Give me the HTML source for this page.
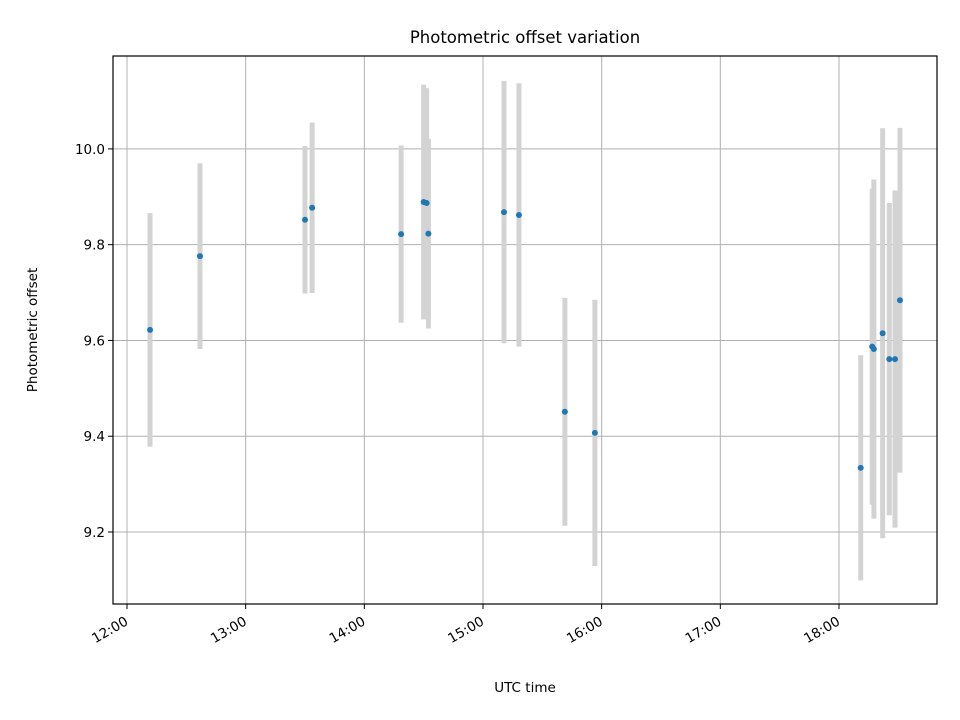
<!DOCTYPE html>
<html><head><meta charset="utf-8"><style>
body{margin:0;background:#fff;}
svg{display:block;font-family:"DejaVu Sans","Liberation Sans",sans-serif;}
</style></head><body>
<svg id="chart" width="960" height="720" viewBox="0 0 960 720" xmlns="http://www.w3.org/2000/svg">
<rect width="960" height="720" fill="#fff"/>
<g id="grid"></g>
<g id="errs"></g>
<g id="pts"></g>
<rect x="113" y="56" width="824" height="548" fill="none" stroke="#000" stroke-width="1.2"/>
<g id="axes"></g>
<text x="525" y="43" text-anchor="middle" font-size="16.5">Photometric offset variation</text>
<text x="525" y="692" text-anchor="middle" font-size="13.5">UTC time</text>
<text transform="translate(37,330) rotate(-90)" text-anchor="middle" font-size="13.5">Photometric offset</text>
</svg>
<script>
const times = [12.194,12.615,13.50,13.56,14.31,14.50,14.525,14.54,15.177,15.303,15.69,15.943,18.183,18.28,18.294,18.368,18.424,18.472,18.514];
const offsets = [9.622,9.776,9.852,9.877,9.822,9.889,9.887,9.823,9.868,9.862,9.451,9.407,9.334,9.587,9.582,9.615,9.561,9.561,9.684];
const errors = [0.244,0.194,0.154,0.178,0.185,0.245,0.24,0.198,0.274,0.275,0.238,0.278,0.235,0.33,0.354,0.428,0.326,0.352,0.36];
const xTickHours = [12,13,14,15,16,17,18];
const xTickLabels = ["12:00","13:00","14:00","15:00","16:00","17:00","18:00"];
const yTicks = [9.2,9.4,9.6,9.8,10.0];
const yTickLabels = ["9.2","9.4","9.6","9.8","10.0"];

const L=113,R=937,T=56,B=604;
const x0=11.882,x1=18.826,y0=9.0496,y1=10.194;
const sx=h=>L+(h-x0)/(x1-x0)*(R-L);
const sy=v=>B-(v-y0)/(y1-y0)*(B-T);
const NS="http://www.w3.org/2000/svg";
function mk(tag,attrs,parent){const e=document.createElementNS(NS,tag);for(const k in attrs)e.setAttribute(k,attrs[k]);parent.appendChild(e);return e;}
const grid=document.getElementById('grid'),axes=document.getElementById('axes'),errs=document.getElementById('errs'),pts=document.getElementById('pts');

xTickHours.forEach((h,i)=>{
  const x=sx(h);
  const g=mk('line',{x1:x,x2:x,y1:T,y2:B,stroke:'#b0b0b0','stroke-width':1},grid);
  
  
  const t=mk('line',{x1:x,x2:x,y1:B,y2:B+5,stroke:'#000','stroke-width':1},axes);
  
  
  const lb=mk('text',{transform:`translate(${x+2},${B+20}) rotate(-30)`,'text-anchor':'end','font-size':13.5},axes);
  lb.textContent=xTickLabels[i];
  
  
});
yTicks.forEach((v,i)=>{
  const y=sy(v);
  const g=mk('line',{x1:L,x2:R,y1:y,y2:y,stroke:'#b0b0b0','stroke-width':1},grid);
  
  
  const t=mk('line',{x1:L-5,x2:L,y1:y,y2:y,stroke:'#000','stroke-width':1},axes);
  
  
  const lb=mk('text',{x:L-8,y:y+5,'text-anchor':'end','font-size':13.5},axes);
  lb.textContent=yTickLabels[i];
  
  
});
times.forEach((h,i)=>{
  const x=sx(h);
  const e=mk('line',{x1:x,x2:x,y1:sy(offsets[i]+errors[i]),y2:sy(offsets[i]-errors[i]),stroke:'#d3d3d3','stroke-width':5},errs);
  
  
  const c=mk('circle',{cx:x,cy:sy(offsets[i]),r:3,fill:'#1f77b4'},pts);
  
  
});
</script>
</body></html>
